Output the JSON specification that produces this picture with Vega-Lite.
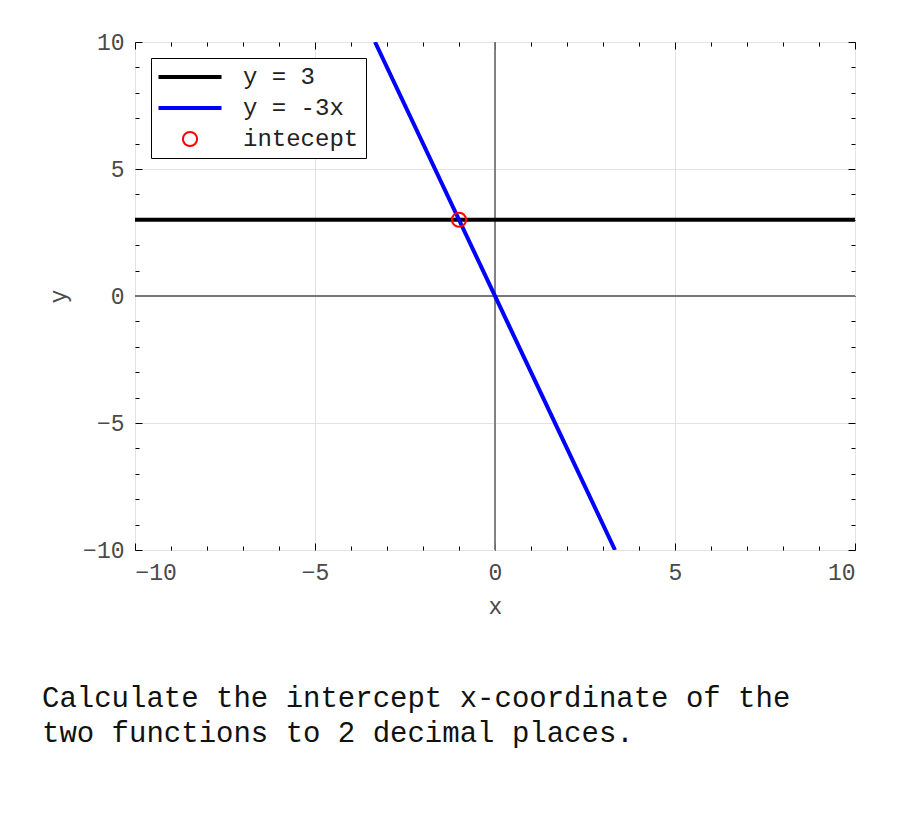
{
  "$schema": "https://vega.github.io/schema/vega-lite/v6.json",
  "autosize": "none",
  "width": 720,
  "height": 508,
  "padding": {"left": 135, "top": 42, "right": 45, "bottom": 275},
  "background": "white",
  "config": {
    "view": {"stroke": "black", "strokeWidth": 1},
    "font": "Liberation Mono",
    "axis": {
      "labelFont": "Liberation Mono",
      "titleFont": "Liberation Mono",
      "labelFontSize": 23,
      "titleFontSize": 23,
      "titleFontWeight": "normal",
      "labelColor": "#4a4a4a",
      "titleColor": "#4a4a4a",
      "tickColor": "black",
      "domain": false
    }
  },
  "title": {
    "text": ["Calculate the intercept x-coordinate of the", "two functions to 2 decimal places."],
    "orient": "bottom",
    "anchor": "start",
    "frame": "group",
    "dx": -93,
    "offset": 66,
    "font": "Liberation Mono",
    "fontSize": 29,
    "fontWeight": "normal",
    "lineHeight": 35,
    "color": "#111"
  },
  "datasets": {
    "lines": [
      {"x": -10, "y": 3, "series": "y = 3"},
      {"x": 10, "y": 3, "series": "y = 3"},
      {"x": -3.3333, "y": 10, "series": "y = -3x"},
      {"x": 3.3333, "y": -10, "series": "y = -3x"}
    ],
    "point": [
      {"x": -1, "y": 3, "series": "intecept"}
    ],
    "zero": [
      {"v": 0}
    ]
  },
  "resolve": {"axis": {"x": "independent", "y": "independent"}},
  "layer": [
    {
      "data": {"name": "zero"},
      "mark": {"type": "rule", "color": "#777", "strokeWidth": 1.8},
      "encoding": {"x": {"field": "v", "type": "quantitative", "axis": null}}
    },
    {
      "data": {"name": "zero"},
      "mark": {"type": "rule", "color": "#777", "strokeWidth": 1.8},
      "encoding": {"y": {"field": "v", "type": "quantitative", "axis": null}}
    },
    {
      "data": {"name": "lines"},
      "mark": {"type": "line", "strokeWidth": 4, "clip": true},
      "encoding": {
        "x": {
          "field": "x", "type": "quantitative",
          "scale": {"domain": [-10, 10], "nice": false, "zero": false},
          "axis": {
            "orient": "bottom",
            "title": "x",
            "values": [-10,-9,-8,-7,-6,-5,-4,-3,-2,-1,0,1,2,3,4,5,6,7,8,9,10],
            "labelExpr": "datum.value % 5 === 0 ? datum.label : ''",
            "tickSize": {"condition": {"test": "datum.value % 5 === 0", "value": -7}, "value": -4},
            "labelPadding": 18,
            "titlePadding": 11,
            "grid": true,
            "gridColor": "#e3e3e3",
            "gridOpacity": {"condition": {"test": "datum.value % 5 === 0", "value": 1}, "value": 0}
          }
        },
        "y": {
          "field": "y", "type": "quantitative",
          "scale": {"domain": [-10, 10], "nice": false, "zero": false},
          "axis": {
            "orient": "left",
            "title": "y",
            "values": [-10,-9,-8,-7,-6,-5,-4,-3,-2,-1,0,1,2,3,4,5,6,7,8,9,10],
            "labelExpr": "datum.value % 5 === 0 ? datum.label : ''",
            "tickSize": {"condition": {"test": "datum.value % 5 === 0", "value": -7}, "value": -4},
            "labelPadding": 18,
            "titlePadding": 12,
            "grid": true,
            "gridColor": "#e3e3e3",
            "gridOpacity": {"condition": {"test": "datum.value % 5 === 0", "value": 1}, "value": 0}
          }
        },
        "color": {
          "field": "series", "type": "nominal",
          "scale": {"domain": ["y = 3", "y = -3x", "intecept"], "range": ["black", "blue", "red"]},
          "legend": {
            "title": null,
            "orient": "top-left",
            "offset": 16,
            "fillColor": "white",
            "strokeColor": "black",
            "padding": 7,
            "labelFont": "Liberation Mono",
            "labelFontSize": 24,
            "labelColor": "#222",
            "labelOffset": 41,
            "symbolOffset": 20,
            "symbolSize": 3969,
            "symbolStrokeWidth": 4,
            "rowPadding": 7,
            "encode": {
              "symbols": {
                "update": {
                  "shape": {"signal": "datum.value === 'intecept' ? 'circle' : 'stroke'"},
                  "size": {"signal": "datum.value === 'intecept' ? 200 : 3969"},
                  "strokeWidth": {"signal": "datum.value === 'intecept' ? 2 : 4"},
                  "fill": {"value": "transparent"}
                }
              }
            }
          }
        }
      }
    },
    {
      "data": {"name": "point"},
      "mark": {"type": "point", "shape": "circle", "filled": false, "color": "red", "size": 200, "strokeWidth": 2, "opacity": 1},
      "encoding": {
        "x": {
          "field": "x", "type": "quantitative",
          "axis": {
            "orient": "top",
            "title": null,
            "values": [-10,-9,-8,-7,-6,-5,-4,-3,-2,-1,0,1,2,3,4,5,6,7,8,9,10],
            "labels": false,
            "tickSize": {"condition": {"test": "datum.value % 5 === 0", "value": -7}, "value": -4},
            "grid": false
          }
        },
        "y": {
          "field": "y", "type": "quantitative",
          "axis": {
            "orient": "right",
            "title": null,
            "values": [-10,-9,-8,-7,-6,-5,-4,-3,-2,-1,0,1,2,3,4,5,6,7,8,9,10],
            "labels": false,
            "tickSize": {"condition": {"test": "datum.value % 5 === 0", "value": -7}, "value": -4},
            "grid": false
          }
        }
      }
    }
  ]
}
